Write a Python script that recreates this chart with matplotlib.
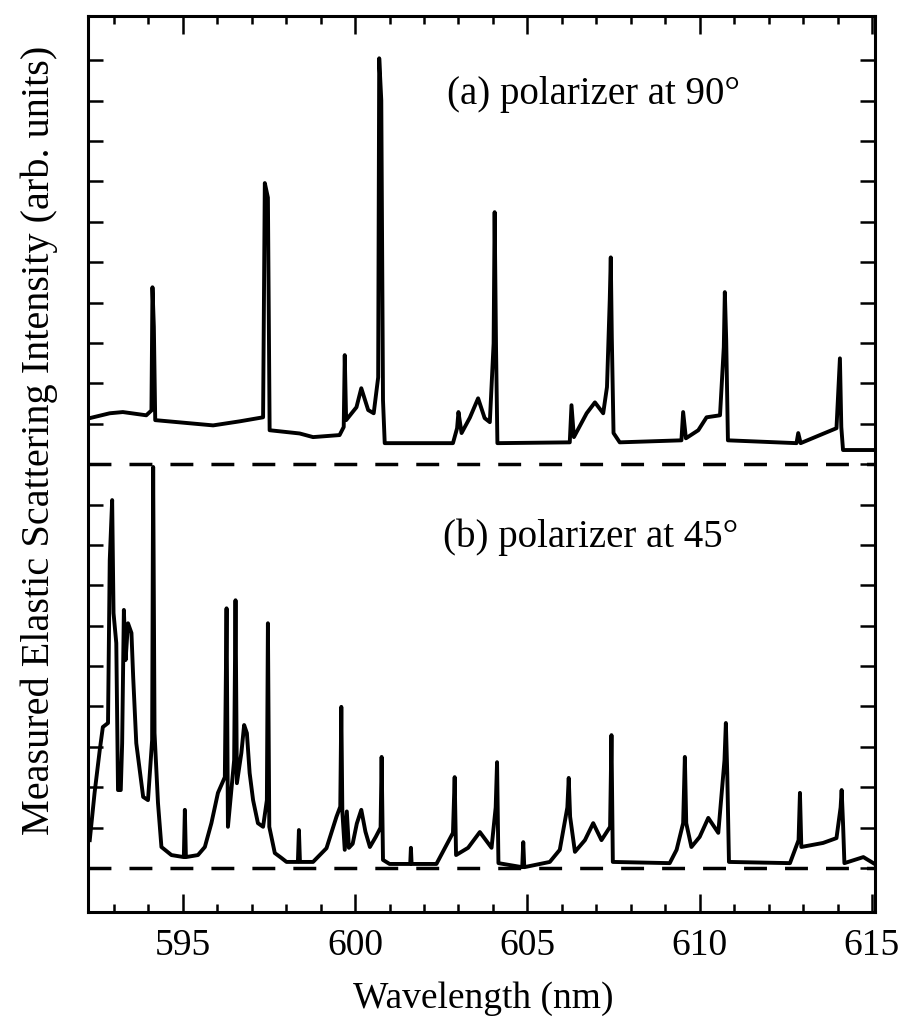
"""
elastic scattering spectra, polarizer at 90 and 45 deg
(upper trace offset by 10 units)
"""

import numpy as np
import matplotlib as mpl
mpl.use('Agg')
import matplotlib.pyplot as plt
from matplotlib.ticker import MultipleLocator

##########################################
mpl.rcParams['font.family'] = 'serif'
mpl.rcParams['font.serif'] = ['Liberation Serif', 'DejaVu Serif']
mpl.rcParams.update({'font.size': 26})
##########################################

# (a) polarizer at 90 deg  -- wavelength (nm), intensity above its own baseline
wl_a = [592.30, 592.88, 593.26, 593.94, 594.09, 594.12, 594.16, 594.20, 595.88, 596.65,
        597.33, 597.38, 597.47, 597.52, 598.39, 598.78, 599.55, 599.67, 599.70, 599.74,
        600.04, 600.18, 600.38, 600.54, 600.67, 600.70, 600.76, 600.81, 600.86, 602.84,
        602.96, 603.00, 603.09, 603.33, 603.57, 603.76, 603.91, 604.02, 604.05, 604.09,
        604.13, 606.23, 606.28, 606.35, 606.72, 606.96, 607.20, 607.31, 607.39, 607.42,
        607.45, 607.50, 607.68, 609.47, 609.52, 609.60, 609.96, 610.20, 610.59, 610.70,
        610.73, 610.77, 610.82, 612.81, 612.86, 612.93, 613.49, 613.97, 614.07, 614.11,
        614.16, 615.04]
int_a = [1.14, 1.26, 1.29, 1.21, 1.33, 4.38, 3.40, 1.09, 0.96, 1.06,
         1.16, 6.96, 6.60, 0.84, 0.76, 0.67, 0.72, 0.92, 2.70, 1.09,
         1.41, 1.88, 1.34, 1.26, 2.15, 10.05, 9.01, 1.58, 0.52, 0.52,
         0.89, 1.29, 0.77, 1.15, 1.63, 1.14, 1.04, 2.99, 6.24, 2.90,
         0.52, 0.54, 1.46, 0.67, 1.26, 1.53, 1.26, 1.91, 4.06, 5.12,
         3.14, 0.77, 0.54, 0.59, 1.29, 0.64, 0.84, 1.16, 1.21, 2.90,
         4.26, 3.07, 0.59, 0.52, 0.77, 0.52, 0.72, 0.89, 2.62, 0.92,
         0.35, 0.35]

# (b) polarizer at 45 deg
wl_b = [592.30, 592.44, 592.59, 592.68, 592.83, 592.88, 592.95, 592.99, 593.07, 593.12,
        593.20, 593.24, 593.29, 593.34, 593.41, 593.51, 593.56, 593.65, 593.75, 593.85,
        593.99, 594.11, 594.14, 594.18, 594.28, 594.38, 594.67, 595.03, 595.06, 595.09,
        595.44, 595.64, 595.83, 596.02, 596.22, 596.27, 596.31, 596.49, 596.53, 596.57,
        596.70, 596.78, 596.86, 596.94, 597.04, 597.18, 597.33, 597.44, 597.47, 597.51,
        597.67, 597.86, 598.01, 598.34, 598.37, 598.40, 598.78, 599.17, 599.46, 599.57,
        599.60, 599.63, 599.70, 599.76, 599.82, 599.93, 600.05, 600.18, 600.30, 600.43,
        600.60, 600.74, 600.77, 600.81, 601.00, 601.60, 601.62, 601.64, 602.36, 602.84,
        602.89, 602.93, 603.28, 603.62, 603.96, 604.08, 604.12, 604.16, 604.85, 604.88,
        604.91, 605.65, 605.94, 606.16, 606.20, 606.24, 606.38, 606.67, 606.91, 607.15,
        607.40, 607.44, 607.48, 609.13, 609.33, 609.52, 609.57, 609.61, 609.76, 610.00,
        610.25, 610.54, 610.72, 610.76, 610.80, 610.85, 612.62, 612.87, 612.91, 612.95,
        613.58, 613.97, 614.09, 614.12, 614.16, 614.20, 614.75, 615.04]
int_b = [0.69, 1.86, 2.92, 3.49, 3.59, 7.62, 9.11, 6.31, 5.57, 1.93,
         1.93, 3.09, 6.39, 5.15, 6.06, 5.82, 4.73, 3.09, 2.43, 1.76,
         1.68, 3.17, 9.93, 3.34, 1.61, 0.52, 0.32, 0.27, 1.44, 0.27,
         0.32, 0.52, 1.11, 1.86, 2.25, 6.43, 1.02, 2.67, 6.63, 2.10,
         2.85, 3.54, 3.34, 2.35, 1.68, 1.11, 1.02, 1.68, 6.06, 1.02,
         0.37, 0.25, 0.15, 0.15, 0.94, 0.15, 0.15, 0.49, 1.27, 1.52,
         3.99, 1.40, 0.45, 1.40, 0.50, 0.60, 1.10, 1.44, 0.90, 0.52,
         0.77, 1.00, 2.75, 0.20, 0.10, 0.10, 0.50, 0.10, 0.10, 0.87,
         2.25, 0.32, 0.50, 0.89, 0.50, 1.50, 2.62, 0.12, 0.02, 0.64,
         0.02, 0.15, 0.45, 1.50, 2.23, 1.27, 0.40, 0.69, 1.11, 0.69,
         1.02, 3.29, 0.15, 0.12, 0.45, 1.11, 2.75, 1.11, 0.52, 0.77,
         1.24, 0.87, 2.67, 3.59, 2.35, 0.15, 0.12, 0.69, 1.86, 0.52,
         0.62, 0.74, 1.50, 1.93, 1.11, 0.12, 0.27, 0.12]

offset_a = 10.0
offset_b = 0.0
xticks = [595, 600, 605, 610, 615]

#--------------------------------
fig = plt.figure(figsize=(9.04, 10.19), dpi=100)
ax = fig.add_axes([0.097, 0.105, 0.871, 0.879])

ax.plot(wl_a, np.array(int_a) + offset_a, '-', color='k', linewidth=2.8)
ax.plot(wl_b, np.array(int_b) + offset_b, '-', color='k', linewidth=2.8)

# baselines
for off in [offset_a, offset_b]:
    ax.axhline(off, color='k', linewidth=2.5, linestyle=(0, (6.6, 5.2)))

ax.text(602.66, 19.16, u'(a) polarizer at 90\u00b0', fontsize=28, ha='left', va='center')
ax.text(602.55, 8.19, u'(b) polarizer at 45\u00b0', fontsize=28, ha='left', va='center')

ax.set_xlim([592.24, 615.09])
ax.set_ylim([-1.09, 21.09])
ax.set_xticks(xticks)
ax.xaxis.set_minor_locator(MultipleLocator(1))
ax.set_yticks(np.arange(0, 21, 1))

ax.tick_params(which='both', direction='in', top=True, right=True, width=1.8)
ax.tick_params(axis='x', which='major', length=13, pad=12, labelsize=27)
ax.tick_params(axis='x', which='minor', length=6)
ax.tick_params(axis='y', which='major', length=11, labelleft=False)
for s in ax.spines.values():
    s.set_linewidth(2.2)

ax.set_xlabel(r'Wavelength (nm)', fontsize=27)
ax.set_ylabel(r'Measured Elastic Scattering Intensity (arb. units)', fontsize=29)
ax.xaxis.set_label_coords(0.502, -0.078)
ax.yaxis.set_label_coords(-0.038, 0.527)

fig.savefig('out.png', dpi=100)
#--------------------------------
